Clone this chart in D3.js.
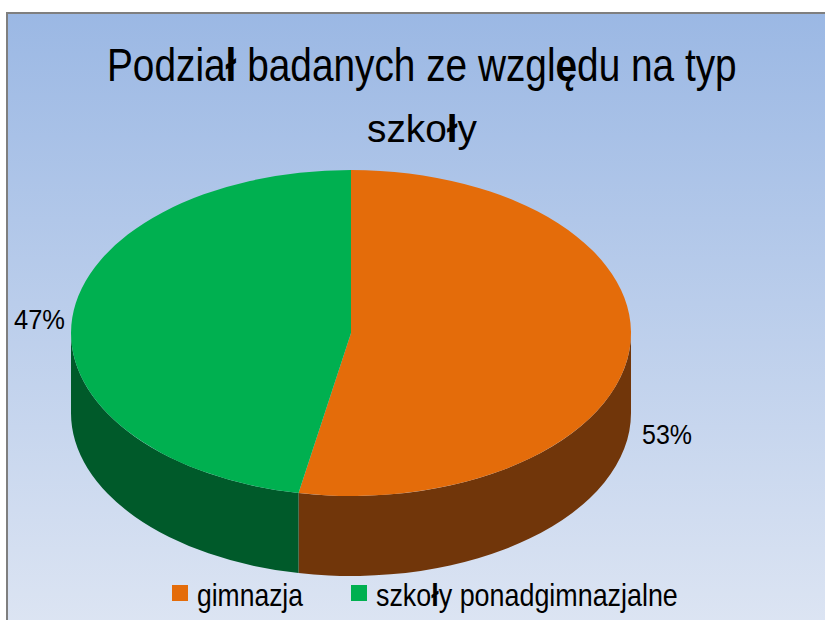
<!DOCTYPE html>
<html>
<head>
<meta charset="utf-8">
<script src="https://cdn.jsdelivr.net/npm/d3@7"></script>
<style>
  body { margin: 0; background: #fff; }
  text { font-family: "Liberation Sans Narrow", "Liberation Sans", Arial, sans-serif; fill: #000; }
</style>
</head>
<body>
<div id="chart"></div>
<script>
// data
const categories = ["gimnazja", "szkoły ponadgimnazjalne"];
const values = [53, 47];
const labels = ["53%", "47%"];
const titleLines = ["Podział badanych ze względu na typ", "szkoły"];
const topColors = ["#E46C0A", "#00B050"];
const sideColors = ["#71360A", "#005A2A"];

const W = 825, H = 620;
const cx = 351, cy = 333, rx = 280, ry = 163, depth = 80;

let svg = d3.select("#chart").append("svg")
    .attr("width", W)
    .attr("height", H);

// background gradient
let grad = svg.append("defs").append("linearGradient")
    .attr("id", "bg")
    .attr("x1", 0).attr("y1", 0).attr("x2", 0).attr("y2", 1);
grad.append("stop").attr("offset", "0%").attr("stop-color", "#9BB8E4");
grad.append("stop").attr("offset", "100%").attr("stop-color", "#DDE5F3");

svg.append("rect")
    .attr("x", 7).attr("y", 13)
    .attr("width", W).attr("height", H)
    .attr("fill", "url(#bg)")
    .attr("stroke", "#7F7F7F")
    .attr("stroke-width", 2);

// pie layout, clockwise from 12 o'clock
let pie = d3.pie().sort(null).value(d => d.v);
let arcs = pie(values.map((v, i) => ({ v: v, i: i })));

function pt(a, dy) {
    return [cx + rx * Math.sin(a), cy - ry * Math.cos(a) + (dy || 0)];
}

// side walls (front half only)
arcs.forEach(function(d) {
    let a0 = Math.max(d.startAngle, Math.PI / 2);
    let a1 = Math.min(d.endAngle, 3 * Math.PI / 2);
    if (a0 >= a1) return;
    let p0 = pt(a0), p1 = pt(a1), q1 = pt(a1, depth), q0 = pt(a0, depth);
    let large = (a1 - a0) > Math.PI ? 1 : 0;
    let path = `M${p0} A${rx},${ry} 0 ${large} 1 ${p1} L${q1} A${rx},${ry} 0 ${large} 0 ${q0} Z`;
    svg.append("path")
        .attr("d", path)
        .attr("fill", sideColors[d.data.i]);
});

// top faces
svg.selectAll("path.top")
    .data(arcs)
    .enter()
    .append("path")
    .attr("class", "top")
    .attr("d", function(d) {
        let p0 = pt(d.startAngle), p1 = pt(d.endAngle);
        let large = (d.endAngle - d.startAngle) > Math.PI ? 1 : 0;
        return `M${cx},${cy} L${p0} A${rx},${ry} 0 ${large} 1 ${p1} Z`;
    })
    .attr("fill", d => topColors[d.data.i]);

// text squeezed horizontally to a given width, "ł" and "ę" drawn bold like the original
function squeezed(str, x, y, width, size) {
    let g = svg.append("g");
    let t = g.append("text").style("font-size", size + "px");
    let buf = "";
    for (const ch of str) {
        if (ch === "ł" || ch === "ę") {
            if (buf) t.append("tspan").text(buf);
            t.append("tspan").style("font-weight", "bold").text(ch);
            buf = "";
        } else buf += ch;
    }
    if (buf) t.append("tspan").text(buf);
    let w = t.node().getComputedTextLength();
    g.attr("transform", `translate(${x},${y}) scale(${width / w},1)`);
    return g;
}

// title
squeezed(titleLines[0], 107, 81, 630, 47);
squeezed(titleLines[1], 367, 142, 110, 38);

// data labels
squeezed(labels[0], 642, 444, 50, 28);
squeezed(labels[1], 14, 329, 51, 28);

// legend
let legendX = [172, 351];
let legendW = [106, 302];
categories.forEach(function(c, i) {
    svg.append("rect")
        .attr("x", legendX[i]).attr("y", 585)
        .attr("width", 16).attr("height", 16)
        .attr("fill", topColors[i]);
    squeezed(c, legendX[i] + 25, 606, legendW[i], 31);
});
</script>
</body>
</html>
